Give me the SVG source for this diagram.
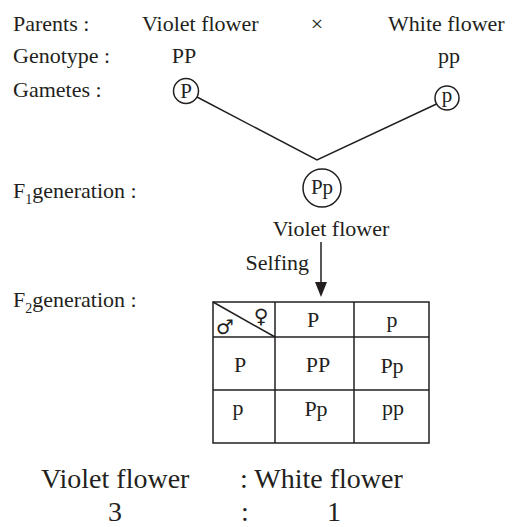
<svg xmlns="http://www.w3.org/2000/svg" width="513" height="527" viewBox="0 0 513 527">
<style>
text{font-family:"Liberation Serif","Times New Roman",serif;fill:#231f20;font-size:22px}
.m{text-anchor:middle}
.c{font-size:21px}
.big{font-size:28px}
.sub{font-size:14px}
.sym{font-family:"DejaVu Sans",sans-serif;font-size:20px}
.ln{stroke:#231f20;stroke-width:1.5;fill:none}
</style>
<rect width="513" height="527" fill="#ffffff"/>
<g id="labels">
<text x="13" y="31">Parents :</text>
<text x="13" y="63">Genotype :</text>
<text x="13" y="97">Gametes :</text>
<text x="13" y="198">F<tspan class="sub" dy="6">1</tspan><tspan dy="-6">generation :</tspan></text>
<text x="13" y="307">F<tspan class="sub" dy="6">2</tspan><tspan dy="-6">generation :</tspan></text>
</g>
<g id="parent-violet">
<text x="142" y="31">Violet flower</text>
<text class="m" x="184" y="63">PP</text>
</g>
<g id="cross">
<text class="m" x="317" y="31">×</text>
</g>
<g id="parent-white">
<text x="388" y="31">White flower</text>
<text class="m" x="449" y="63">pp</text>
</g>
<g id="gamete-P">
<circle class="ln" cx="186" cy="91" r="12.5"/>
<text class="m c" x="186" y="98">P</text>
</g>
<g id="gamete-p">
<circle class="ln" cx="447" cy="98" r="12"/>
<text class="m c" x="447" y="102">p</text>
</g>
<g id="f1">
<circle class="ln" cx="322" cy="188" r="19"/>
<text class="m c" x="322" y="194">Pp</text>
<text class="m" x="331" y="236">Violet flower</text>
</g>
<g id="connectors">
<polyline class="ln" points="197,97 317,160 436.5,104"/>
<line class="ln" x1="321" y1="242" x2="321" y2="285"/>
<polygon points="315,282 327,282 321,297" fill="#231f20"/>
<text x="309" y="270" text-anchor="end">Selfing</text>
</g>
<g id="punnett">
<rect class="ln" x="213" y="302" width="216" height="141"/>
<line class="ln" x1="275" y1="302" x2="275" y2="443"/>
<line class="ln" x1="354" y1="302" x2="354" y2="443"/>
<line class="ln" x1="213" y1="337" x2="429" y2="337"/>
<line class="ln" x1="213" y1="390" x2="429" y2="390"/>
<line class="ln" x1="213" y1="302" x2="275" y2="337"/>
<text class="sym m" x="225" y="334">♂</text>
<text class="sym m" x="261" y="323">♀</text>
<text class="m" x="313" y="327">P</text>
<text class="m" x="392" y="327">p</text>
<text class="m" x="240" y="372">P</text>
<text class="m" x="318" y="372">PP</text>
<text class="m" x="392" y="373">Pp</text>
<text class="m" x="238" y="415">p</text>
<text class="m" x="316" y="416">Pp</text>
<text class="m" x="393" y="415">pp</text>
</g>
<g id="ratio">
<text class="big" x="41" y="488">Violet flower</text>
<text class="big" x="240" y="488">: White flower</text>
<text class="big m" x="115" y="521">3</text>
<text class="big m" x="245" y="521">:</text>
<text class="big m" x="334" y="521">1</text>
</g>
</svg>
